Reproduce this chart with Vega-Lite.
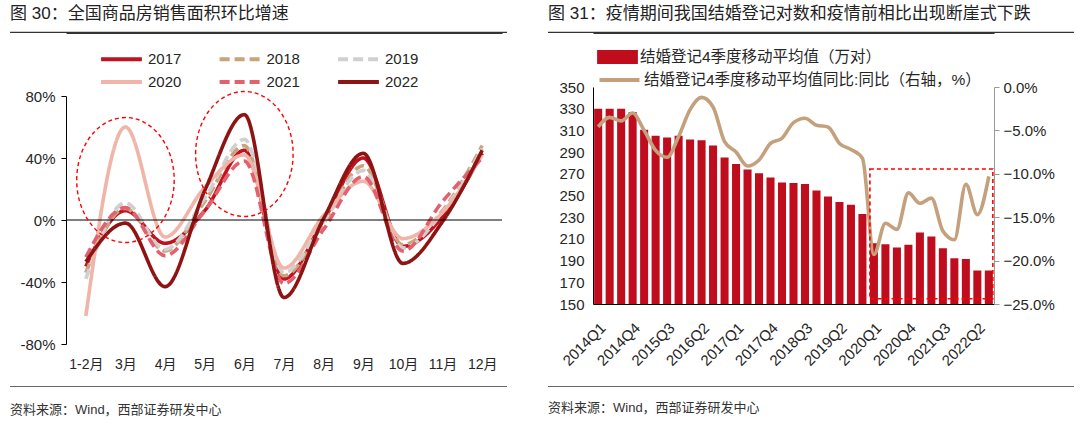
{
  "$schema": "https://vega.github.io/schema/vega-lite/v6.json",
  "background": "white",
  "padding": {"left": 10, "top": 5, "right": 0, "bottom": 0},
  "config": {
    "view": {"stroke": null},
    "font": "Liberation Sans, Noto Sans CJK SC",
    "axis": {"labelFont": "Liberation Sans, Noto Sans CJK SC", "labelColor": "#262626", "labelFontSize": 14, "grid": false, "title": null},
    "legend": {"labelFont": "Liberation Sans, Noto Sans CJK SC", "labelColor": "#262626", "padding": 0, "labelLimit": 500},
    "title": {"font": "Liberation Sans, Noto Sans CJK SC", "fontWeight": "normal", "color": "#222222"}
  },
  "spacing": 40,
  "hconcat": [
    {
      "spacing": 15,
      "resolve": {"scale": {"color": "independent", "strokeDash": "independent"}},
      "vconcat": [
        {
          "width": 436, "height": 2,
          "title": {"text": "图 30：全国商品房销售面积环比增速", "anchor": "start", "fontSize": 17, "offset": 8},
          "data": {"values": [{"a": -56, "b": 441, "v1": 0.6, "v2": 0}]},
          "mark": {"type": "rect", "fill": "#333333"},
          "encoding": {
            "x": {"field": "a", "type": "quantitative", "scale": {"domain": [0, 436]}, "axis": {"orient": "bottom", "domain": true, "domainColor": "#333333", "domainWidth": 1, "ticks": false, "labels": false}},
            "x2": {"field": "b"},
            "y": {"field": "v1", "type": "quantitative", "scale": {"domain": [0, 1]}, "axis": null},
            "y2": {"field": "v2"}
          }
        },
        {
          "width": 436, "height": 248,
          "layer": [
            {
              "data": {"values": [
                {"m": "1-2月", "year": "2017", "v": -30}, {"m": "3月", "year": "2017", "v": 6}, {"m": "4月", "year": "2017", "v": -15}, {"m": "5月", "year": "2017", "v": 6}, {"m": "6月", "year": "2017", "v": 45}, {"m": "7月", "year": "2017", "v": -38}, {"m": "8月", "year": "2017", "v": 0}, {"m": "9月", "year": "2017", "v": 40}, {"m": "10月", "year": "2017", "v": -17}, {"m": "11月", "year": "2017", "v": 2}, {"m": "12月", "year": "2017", "v": 43},
                {"m": "1-2月", "year": "2018", "v": -34}, {"m": "3月", "year": "2018", "v": 7.5}, {"m": "4月", "year": "2018", "v": -20}, {"m": "5月", "year": "2018", "v": 12}, {"m": "6月", "year": "2018", "v": 48}, {"m": "7月", "year": "2018", "v": -36}, {"m": "8月", "year": "2018", "v": -2}, {"m": "9月", "year": "2018", "v": 35}, {"m": "10月", "year": "2018", "v": -16}, {"m": "11月", "year": "2018", "v": 6}, {"m": "12月", "year": "2018", "v": 48},
                {"m": "1-2月", "year": "2019", "v": -38}, {"m": "3月", "year": "2019", "v": 11}, {"m": "4月", "year": "2019", "v": -19}, {"m": "5月", "year": "2019", "v": 14}, {"m": "6月", "year": "2019", "v": 52}, {"m": "7月", "year": "2019", "v": -34}, {"m": "8月", "year": "2019", "v": -1}, {"m": "9月", "year": "2019", "v": 32}, {"m": "10月", "year": "2019", "v": -18}, {"m": "11月", "year": "2019", "v": 5}, {"m": "12月", "year": "2019", "v": 46},
                {"m": "1-2月", "year": "2020", "v": -62}, {"m": "3月", "year": "2020", "v": 60}, {"m": "4月", "year": "2020", "v": -11}, {"m": "5月", "year": "2020", "v": 21}, {"m": "6月", "year": "2020", "v": 42}, {"m": "7月", "year": "2020", "v": -31}, {"m": "8月", "year": "2020", "v": 3}, {"m": "9月", "year": "2020", "v": 25}, {"m": "10月", "year": "2020", "v": -12}, {"m": "11月", "year": "2020", "v": 5}, {"m": "12月", "year": "2020", "v": 42},
                {"m": "1-2月", "year": "2021", "v": -24}, {"m": "3月", "year": "2021", "v": 8}, {"m": "4月", "year": "2021", "v": -23}, {"m": "5月", "year": "2021", "v": 6}, {"m": "6月", "year": "2021", "v": 38}, {"m": "7月", "year": "2021", "v": -41}, {"m": "8月", "year": "2021", "v": -6}, {"m": "9月", "year": "2021", "v": 28}, {"m": "10月", "year": "2021", "v": -20}, {"m": "11月", "year": "2021", "v": 12}, {"m": "12月", "year": "2021", "v": 40},
                {"m": "1-2月", "year": "2022", "v": -27}, {"m": "3月", "year": "2022", "v": -2}, {"m": "4月", "year": "2022", "v": -43}, {"m": "5月", "year": "2022", "v": 19}, {"m": "6月", "year": "2022", "v": 68}, {"m": "7月", "year": "2022", "v": -50}, {"m": "8月", "year": "2022", "v": 1}, {"m": "9月", "year": "2022", "v": 43}, {"m": "10月", "year": "2022", "v": -28}, {"m": "11月", "year": "2022", "v": -1}, {"m": "12月", "year": "2022", "v": 45}
              ]},
              "mark": {"type": "line", "interpolate": "monotone", "strokeWidth": 3.6},
              "encoding": {
                "x": {"field": "m", "type": "ordinal", "scale": {"type": "point", "padding": 0.5, "domain": ["1-2月", "3月", "4月", "5月", "6月", "7月", "8月", "9月", "10月", "11月", "12月"]},
                      "axis": {"domain": false, "ticks": false, "labelAngle": 0, "labelPadding": 13, "labelFontSize": 14}},
                "y": {"field": "v", "type": "quantitative", "scale": {"domain": [-80, 80]},
                      "axis": {"values": [-80, -60, -40, -20, 0, 20, 40, 60, 80], "labelOverlap": false, "labelExpr": "datum.value + '%'", "domainColor": "#000000", "tickColor": "#000000", "tickSize": 5, "labelPadding": 6, "minExtent": 56, "maxExtent": 56, "labelFontSize": 15}},
                "color": {"field": "year", "type": "nominal",
                          "scale": {"domain": ["2017", "2018", "2019", "2020", "2021", "2022"], "range": ["#C1121F", "#C9A37B", "#D0D0D0", "#F0B5A8", "#E3606E", "#8E1414"]},
                          "legend": {"title": null, "orient": "none", "legendX": 45, "legendY": -47.5, "direction": "horizontal", "columns": 3, "symbolType": "M -2.4 0 L 2.4 0", "symbolSize": 289, "symbolStrokeWidth": 4, "labelFontSize": 15, "labelOffset": 16, "columnPadding": 29.5, "rowPadding": 4}},
                "strokeDash": {"field": "year", "type": "nominal",
                          "scale": {"domain": ["2017", "2018", "2019", "2020", "2021", "2022"], "range": [[1, 0], [10, 5], [10, 5], [1, 0], [10, 5], [1, 0]]},
                          "legend": {"title": null, "orient": "none", "legendX": 45, "legendY": -47.5, "direction": "horizontal", "columns": 3, "symbolType": "M -2.4 0 L 2.4 0", "symbolSize": 289, "symbolStrokeWidth": 4, "labelFontSize": 15, "labelOffset": 16, "columnPadding": 29.5, "rowPadding": 4}}
              }
            },
            {
              "data": {"values": [{"z": 0}]},
              "mark": {"type": "rule", "color": "#000000", "strokeWidth": 1},
              "encoding": {"y": {"field": "z", "type": "quantitative"}}
            },
            {
              "data": {"values": [{"m": "3月", "v": 25.8}, {"m": "6月", "v": 42.6}]},
              "mark": {"type": "point", "shape": "M -0.78 0 A 0.78 1 0 1 1 0.78 0 A 0.78 1 0 1 1 -0.78 0 Z", "size": 15625, "filled": false, "stroke": "#FF0000", "strokeWidth": 1.4, "strokeDash": [4, 3], "opacity": 1},
              "encoding": {
                "x": {"field": "m", "type": "ordinal", "scale": {"type": "point", "padding": 0.5, "domain": ["1-2月", "3月", "4月", "5月", "6月", "7月", "8月", "9月", "10月", "11月", "12月"]}},
                "y": {"field": "v", "type": "quantitative"}
              }
            }
          ]
        },
        {
          "width": 436, "height": 1,
          "title": {"text": "资料来源：Wind，西部证券研发中心", "orient": "bottom", "anchor": "start", "fontSize": 13, "color": "#333333", "offset": 17},
          "data": {"values": [{"a": -56, "b": 441, "v1": 1, "v2": 0}]},
          "mark": {"type": "rect", "fill": "#666666"},
          "encoding": {
            "x": {"field": "a", "type": "quantitative", "scale": {"domain": [0, 436]}, "axis": null},
            "x2": {"field": "b"},
            "y": {"field": "v1", "type": "quantitative", "scale": {"domain": [0, 1]}, "axis": null},
            "y2": {"field": "v2"}
          }
        }
      ]
    },
    {
      "spacing": 15,
      "vconcat": [
        {
          "width": 401, "height": 2,
          "title": {"text": "图 31：疫情期间我国结婚登记对数和疫情前相比出现断崖式下跌", "anchor": "start", "fontSize": 17, "offset": 8},
          "data": {"values": [{"a": -45, "b": 481, "v1": 0.6, "v2": 0}]},
          "mark": {"type": "rect", "fill": "#333333"},
          "encoding": {
            "x": {"field": "a", "type": "quantitative", "scale": {"domain": [0, 401]}, "axis": {"orient": "bottom", "domain": true, "domainColor": "#333333", "domainWidth": 1, "ticks": false, "labels": false}},
            "x2": {"field": "b"},
            "y": {"field": "v1", "type": "quantitative", "scale": {"domain": [0, 1]}, "axis": null},
            "y2": {"field": "v2"}
          }
        },
        {
          "width": 401, "height": 217,
          "data": {"values": [
            {"q": "2014Q1", "n": 330, "p": -4.6}, {"q": "2014Q2", "n": 330, "p": -3.5}, {"q": "2014Q3", "n": 330, "p": -3.9}, {"q": "2014Q4", "n": 327, "p": -3.0},
            {"q": "2015Q1", "n": 310.5, "p": -5.0}, {"q": "2015Q2", "n": 305, "p": -7.3}, {"q": "2015Q3", "n": 303.5, "p": -8.1}, {"q": "2015Q4", "n": 305, "p": -5.7},
            {"q": "2016Q1", "n": 301.5, "p": -2.6}, {"q": "2016Q2", "n": 301, "p": -1.2}, {"q": "2016Q3", "n": 296, "p": -2.3}, {"q": "2016Q4", "n": 285, "p": -6.3},
            {"q": "2017Q1", "n": 279, "p": -7.5}, {"q": "2017Q2", "n": 274, "p": -9.1}, {"q": "2017Q3", "n": 270.5, "p": -8.4}, {"q": "2017Q4", "n": 266.5, "p": -6.5},
            {"q": "2018Q1", "n": 262, "p": -5.9}, {"q": "2018Q2", "n": 261.5, "p": -4.1}, {"q": "2018Q3", "n": 260.5, "p": -3.6}, {"q": "2018Q4", "n": 254.5, "p": -4.4},
            {"q": "2019Q1", "n": 249, "p": -4.6}, {"q": "2019Q2", "n": 244, "p": -6.5}, {"q": "2019Q3", "n": 241.5, "p": -7.2}, {"q": "2019Q4", "n": 233, "p": -8.2},
            {"q": "2020Q1", "n": 206, "p": -19.3}, {"q": "2020Q2", "n": 205, "p": -15.7}, {"q": "2020Q3", "n": 202, "p": -16.4}, {"q": "2020Q4", "n": 204.5, "p": -12.2},
            {"q": "2021Q1", "n": 215.8, "p": -13.4}, {"q": "2021Q2", "n": 212.2, "p": -12.8}, {"q": "2021Q3", "n": 201.4, "p": -16.6}, {"q": "2021Q4", "n": 192.2, "p": -17.6},
            {"q": "2022Q1", "n": 191.5, "p": -11.2}, {"q": "2022Q2", "n": 180.8, "p": -14.7}, {"q": "2022Q3", "n": 180.8, "p": -10.3}
          ]},
          "layer": [
            {
              "mark": {"type": "bar", "color": "#C00D1E", "clip": true},
              "encoding": {
                "x": {"field": "q", "type": "ordinal", "scale": {"type": "band", "paddingInner": 0.3, "paddingOuter": 0.1},
                      "axis": {"values": ["2014Q1", "2014Q4", "2015Q3", "2016Q2", "2017Q1", "2017Q4", "2018Q3", "2019Q2", "2020Q1", "2020Q4", "2021Q3", "2022Q2"], "labelAngle": -45, "ticks": false, "labelPadding": 16, "labelFontSize": 15, "domainColor": "#000000"}},
                "y": {"field": "n", "type": "quantitative", "scale": {"domain": [150, 350], "zero": false},
                      "axis": {"orient": "left", "values": [150, 170, 190, 210, 230, 250, 270, 290, 310, 330, 350], "labelOverlap": false, "domainColor": "#000000", "ticks": false, "labelPadding": 9, "minExtent": 45, "maxExtent": 45, "labelFontSize": 15}},
                "fill": {"datum": "结婚登记4季度移动平均值（万对）", "scale": {"range": ["#C00D1E"]},
                         "legend": {"title": null, "orient": "none", "legendX": 16, "legendY": -38.5, "symbolType": "M -2.4 -0.82 L 2.4 -0.82 L 2.4 0.82 L -2.4 0.82 Z", "symbolSize": 289, "symbolStrokeWidth": 0, "labelFontSize": 15.5, "labelOffset": 14}}
              }
            },
            {
              "mark": {"type": "line", "interpolate": "monotone", "strokeWidth": 3.6},
              "encoding": {
                "x": {"field": "q", "type": "ordinal", "scale": {"type": "band", "paddingInner": 0.3, "paddingOuter": 0.1}},
                "y": {"field": "p", "type": "quantitative", "scale": {"domain": [-25, 0]},
                      "axis": {"orient": "right", "values": [-25, -20, -15, -10, -5, 0], "labelOverlap": false, "labelExpr": "format(datum.value, '.1f') + '%'", "domainColor": "#999999", "tickColor": "#999999", "tickSize": 5, "labelPadding": 4, "labelFontSize": 15}},
                "stroke": {"datum": "结婚登记4季度移动平均值同比:同比（右轴，%）", "scale": {"range": ["#C4A07C"]},
                           "legend": {"title": null, "orient": "none", "legendX": 16, "legendY": -17.5, "symbolType": "M -2.35 0 L 2.35 0", "symbolSize": 289, "symbolStrokeWidth": 4, "labelFontSize": 15.5, "labelOffset": 14}}
              }
            },
            {
              "data": {"values": [{"a": "2020Q1", "b": "2022Q3", "t": -9.45, "u": -24.4}]},
              "mark": {"type": "rect", "fill": "transparent", "stroke": "#FF0000", "strokeWidth": 1.6, "strokeDash": [4, 3]},
              "encoding": {
                "x": {"field": "a", "type": "ordinal", "bandPosition": 0, "scale": {"type": "band", "paddingInner": 0.3, "paddingOuter": 0.1}},
                "x2": {"field": "b", "bandPosition": 1},
                "y": {"field": "t", "type": "quantitative", "scale": {"domain": [-25, 0]}, "axis": null},
                "y2": {"field": "u"}
              }
            }
          ],
          "resolve": {"scale": {"y": "independent", "fill": "independent", "stroke": "independent"}}
        },
        {
          "width": 401, "height": 3,
          "title": {"text": "资料来源：Wind，西部证券研发中心", "orient": "bottom", "anchor": "start", "fontSize": 13, "color": "#333333", "offset": 15},
          "data": {"values": [{"a": -45, "b": 481, "v1": 0.34, "v2": 0}]},
          "mark": {"type": "rect", "fill": "#666666"},
          "encoding": {
            "x": {"field": "a", "type": "quantitative", "scale": {"domain": [0, 401]}, "axis": null},
            "x2": {"field": "b"},
            "y": {"field": "v1", "type": "quantitative", "scale": {"domain": [0, 1]}, "axis": null},
            "y2": {"field": "v2"}
          }
        }
      ]
    }
  ]
}
